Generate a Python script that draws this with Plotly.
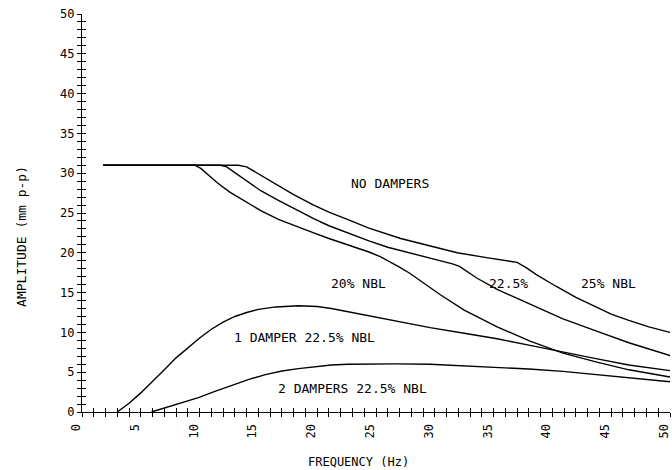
import plotly.graph_objects as go

# Frequency (Hz) / amplitude (mm p-p)
nbl25_x = [1.8, 13.3, 14.0, 14.7, 15.4, 16.7, 18.0, 19.7, 21.0, 22.4, 24.4, 27.1, 29.4, 31.9, 34.4, 36.3, 37.0,
           37.8, 38.6, 40.3, 42.0, 43.7, 45.0, 46.5, 48.2, 50.0]
nbl25_y = [31.0, 31.0, 30.8, 30.2, 29.6, 28.5, 27.3, 26.0, 25.1, 24.3, 23.1, 21.8, 20.9, 20.0, 19.4, 19.0, 18.8,
           18.1, 17.3, 15.8, 14.4, 13.2, 12.3, 11.5, 10.7, 10.0]

nbl225_x = [1.8, 11.8, 12.3, 12.9, 13.9, 15.2, 16.7, 18.2, 19.7, 21.0, 22.4, 24.4, 26.0, 27.9, 30.2, 31.5, 32.1,
            32.8, 33.6, 35.3, 38.1, 40.9, 43.7, 46.5, 50.0]
nbl225_y = [31.0, 31.0, 30.8, 30.2, 29.1, 27.8, 26.6, 25.4, 24.3, 23.4, 22.6, 21.5, 20.7, 20.0, 19.1, 18.6, 18.3,
            17.6, 16.8, 15.4, 13.5, 11.7, 10.2, 8.7, 7.1]

nbl20_x = [1.8, 9.6, 10.1, 10.7, 11.5, 12.6, 13.9, 15.2, 16.7, 18.2, 19.7, 21.0, 22.4, 24.4, 25.4, 26.2, 27.0,
           27.9, 29.2, 30.5, 32.5, 35.3, 38.1, 40.9, 43.7, 46.5, 50.0]
nbl20_y = [31.0, 31.0, 30.6, 29.8, 28.8, 27.6, 26.5, 25.3, 24.2, 23.3, 22.5, 21.8, 21.1, 20.1, 19.5, 18.9, 18.2,
           17.4, 16.0, 14.7, 12.8, 10.7, 8.9, 7.4, 6.3, 5.3, 4.4]

damp1_x = [3.0, 4.0, 5.0, 6.0, 7.0, 8.0, 9.0, 10.0, 11.0, 12.0, 13.0, 14.0, 15.0, 16.5, 18.4, 20.0, 21.2, 22.6,
           24.1, 26.8, 29.6, 32.5, 35.3, 38.0, 40.9, 43.7, 46.5, 50.0]
damp1_y = [0.0, 1.1, 2.4, 3.8, 5.3, 6.8, 8.1, 9.3, 10.4, 11.3, 12.0, 12.5, 12.9, 13.2, 13.35, 13.25, 13.0, 12.6,
           12.1, 11.4, 10.6, 9.9, 9.2, 8.4, 7.5, 6.7, 5.9, 5.2]

damp2_x = [5.9, 7.0, 8.5, 9.9, 11.3, 12.7, 14.2, 15.6, 17.0, 18.4, 19.8, 21.2, 22.6, 24.1, 26.8, 29.6, 32.5,
           35.3, 38.0, 40.9, 43.7, 46.5, 50.0]
damp2_y = [0.0, 0.5, 1.2, 1.8, 2.6, 3.3, 4.1, 4.7, 5.15, 5.45, 5.7, 5.9, 6.0, 6.05, 6.05, 6.0, 5.8,
           5.6, 5.4, 5.1, 4.7, 4.3, 3.8]

labels = ["NO DAMPERS", "20% NBL", "22.5%", "25% NBL", "1 DAMPER 22.5% NBL", "2 DAMPERS 22.5% NBL"]
label_x = [26.2, 23.5, 36.3, 44.8, 18.9, 23.0]
label_y = [28.7, 16.2, 16.1, 16.1, 9.4, 2.9]

x_ticks = [0, 5, 10, 15, 20, 25, 30, 35, 40, 45, 50]
y_ticks = [0, 5, 10, 15, 20, 25, 30, 35, 40, 45, 50]

FONT = "DejaVu Sans Mono"
line = dict(color="black", width=1.4)

fig = go.Figure()
for xs, ys in [(nbl25_x, nbl25_y), (nbl225_x, nbl225_y), (nbl20_x, nbl20_y),
               (damp1_x, damp1_y), (damp2_x, damp2_y)]:
    fig.add_trace(go.Scatter(x=xs, y=ys, mode="lines", line=line, showlegend=False,
                             hoverinfo="skip"))
fig.add_trace(go.Scatter(x=[], y=[], xaxis="x2", yaxis="y2", showlegend=False))

for t, x, y in zip(labels, label_x, label_y):
    fig.add_annotation(x=x, y=y, text=t, showarrow=False, xref="x", yref="y",
                       font=dict(family=FONT, size=13, color="black"))

fig.add_annotation(text="AMPLITUDE (mm p-p)", xref="paper", yref="paper", x=0, y=0.44,
                   xanchor="center", yanchor="middle",
                   xshift=-60, textangle=-90, showarrow=False,
                   font=dict(family=FONT, size=13, color="black"))
fig.add_annotation(text="FREQUENCY (Hz)", xref="paper", yref="paper", x=0.47, y=-0.125,
                   xanchor="center", yanchor="middle",
                   showarrow=False, font=dict(family=FONT, size=12, color="black"))

common = dict(showgrid=False, zeroline=False, tickcolor="black", tickwidth=1.2, ticklen=4)

fig.update_layout(
    width=672, height=470,
    margin=dict(l=82, r=2, t=14, b=58),
    paper_bgcolor="white", plot_bgcolor="white",
    xaxis=dict(range=[0, 50], tickvals=x_ticks, ticktext=[str(v) for v in x_ticks],
               ticks="outside", showline=True, linecolor="black", linewidth=1.4,
               tickangle=-90, ticklabelshift=-6, ticklabelstandoff=2, ticklabeloverflow="allow",
               automargin=False,
               tickfont=dict(family=FONT, size=12, color="black"),
               minor=dict(ticks="outside", dtick=1, ticklen=4, tickcolor="black", tickwidth=1.2),
               **common),
    yaxis=dict(range=[0, 50], tickvals=y_ticks, ticktext=[str(v) for v in y_ticks],
               ticks="outside", showline=True, linecolor="black", linewidth=1.4,
               tickfont=dict(family=FONT, size=12, color="black"), ticklabelstandoff=0,
               ticklabeloverflow="allow", automargin=False,
               minor=dict(ticks="outside", dtick=1, ticklen=4, tickcolor="black", tickwidth=1.2),
               **common),
    xaxis2=dict(range=[0, 50], overlaying="x", anchor="y", side="bottom", ticks="inside",
                dtick=5, showticklabels=False, showline=False,
                minor=dict(ticks="inside", dtick=1, ticklen=4, tickcolor="black", tickwidth=1.2),
                **common),
    yaxis2=dict(range=[0, 50], overlaying="y", anchor="x", side="left", ticks="inside",
                dtick=5, showticklabels=False, showline=False,
                minor=dict(ticks="inside", dtick=1, ticklen=4, tickcolor="black", tickwidth=1.2),
                **common),
)

fig.write_html("out.html")
